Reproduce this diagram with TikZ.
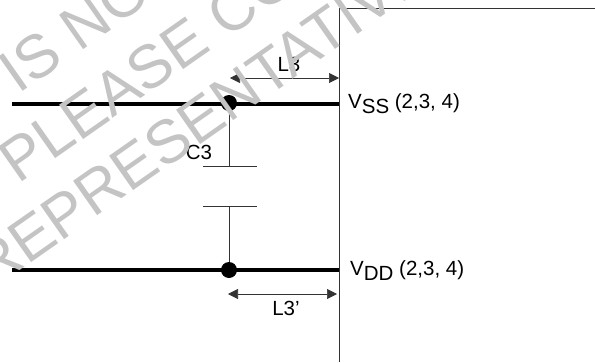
\documentclass[tikz,border=0pt]{standalone}
\usepackage{fontspec}
\setmainfont{Liberation Sans}
\usetikzlibrary{arrows.meta}
\definecolor{wm}{HTML}{C4C4C4}
\definecolor{ln}{HTML}{333333}
\tikzset{
  x=1pt,y=-1pt,
  thin line/.style={draw=ln,line width=0.8pt},
  bus/.style={draw=black,line width=3.6pt},
  junction/.style={circle,fill=black,inner sep=0pt,minimum size=16pt},
  dim/.style={draw=ln,line width=0.7pt,{Triangle[length=10pt,width=10pt]}-{Triangle[length=10pt,width=10pt]}},
  lbl/.style={inner sep=0pt,font=\fontsize{20.5}{22}\selectfont,text=black},
  mark text/.style={inner sep=0pt,rotate=35,text=wm,font=\fontsize{61}{61}\selectfont,anchor=base west}
}
\newcommand{\pinlabel}[1]{V\raisebox{-5pt}{#1} (2,3, 4)}
\begin{document}
\begin{tikzpicture}
\useasboundingbox (0,0) rectangle (595,362);
\clip (0,0) rectangle (595,362);
\coordinate (busAL) at (12,104);
\coordinate (busAR) at (339,104);
\coordinate (busBL) at (12,270);
\coordinate (busBR) at (339,270);
\coordinate (boxTL) at (339,8);
\coordinate (boxBL) at (339,362);
\coordinate (boxTR) at (595,8);
\draw[thin line] (boxBL) -- (boxTL) -- (boxTR);
\draw[bus] (busAL) -- (busAR);
\draw[bus] (busBL) -- (busBR);
\node[junction] (ja) at (229,103) {};
\node[junction] (jb) at (229,270) {};
\coordinate (pa) at (229,166);
\coordinate (pb) at (229,206);
\draw[thin line] (ja) -- (pa);
\draw[thin line] (jb) -- (pb);
\draw[thin line] (203,166) -- (257,166);
\draw[thin line] (203,206) -- (257,206);
\coordinate (la) at (230,78);
\coordinate (lb) at (339,78);
\coordinate (lc) at (228,294);
\coordinate (ld) at (337,294);
\draw[dim] (la) -- (lb);
\draw[dim] (lc) -- (ld);
\node[lbl] (l3) at (289,64) {L3};
\node[lbl] (l3p) at (286,308) {L3’};
\node[lbl] (c3) at (199,152) {C3};
\node[lbl,anchor=base west] (vss) at (348,108) {\pinlabel{SS}};
\node[lbl,anchor=base west] (vdd) at (350,275) {\pinlabel{DD}};
\node[mark text] (w1) at (18,95) {IS NOT};
\node[mark text] (w2) at (18,185) {PLEASE CONTACT};
\node[mark text] (w3) at (-9,291) {REPRESENTATIVE};
\end{tikzpicture}
\end{document}
